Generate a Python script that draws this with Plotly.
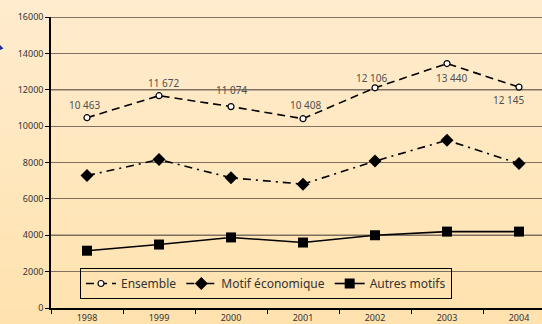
import plotly.graph_objects as go

# Annual totals by reason
years = ["1998", "1999", "2000", "2001", "2002", "2003", "2004"]
ensemble = [10463, 11672, 11074, 10408, 12106, 13440, 12145]
motif_eco = [7280, 8160, 7160, 6810, 8080, 9220, 7940]
autres = [3150, 3490, 3880, 3600, 4000, 4200, 4200]

# pixel offsets of the value labels relative to their points
label_dx = [-3, 4, 0, 2, -4, 4, -11]
label_dy = [13, 13, 17, 14, 10, -14, -13]

W, H = 542, 324
L, R, T, B = 51, 0, 17, 16
pw, ph = W - L - R, H - T - B


def px_x(p):
    return (p - L) / pw


def px_y(p):
    return (H - B - p) / ph


def fmt(v):
    return f"{v:,}".replace(",", " ")


fig = go.Figure()

fig.add_trace(go.Scatter(
    x=years, y=ensemble, name="Ensemble", mode="lines+markers",
    line=dict(color="black", width=1.6, dash="8px,5px"),
    marker=dict(symbol="circle", size=6, color="white",
                line=dict(color="black", width=1.2)),
))
fig.add_trace(go.Scatter(
    x=years, y=motif_eco, name="Motif économique", mode="lines+markers",
    line=dict(color="black", width=1.6, dash="8px,5px,2px,5px"),
    marker=dict(symbol="diamond", size=10, color="black"),
))
fig.add_trace(go.Scatter(
    x=years, y=autres, name="Autres motifs", mode="lines+markers",
    line=dict(color="black", width=1.6),
    marker=dict(symbol="square", size=10, color="black"),
))

# value labels on the "Ensemble" series (category index as x position)
annotations = [
    dict(x=i, y=v, xref="x", yref="y", text=fmt(v), showarrow=False,
         xshift=dx, yshift=dy,
         font=dict(size=10, color="#505050", family="Noto Sans"))
    for i, (v, dx, dy) in enumerate(zip(ensemble, label_dx, label_dy))
]

shapes = []
# soft vertical background gradient
top_rgb = (255, 236, 206)
bot_rgb = (255, 226, 174)
n = 40
for i in range(n):
    t = i / (n - 1)
    c = tuple(round(a + (b - a) * t) for a, b in zip(top_rgb, bot_rgb))
    y0 = i * H / n
    y1 = (i + 1) * H / n + 1
    shapes.append(dict(type="rect", xref="paper", yref="paper",
                       x0=px_x(0), x1=px_x(W), y0=px_y(y1), y1=px_y(y0),
                       fillcolor=f"rgb{c}", line=dict(width=0), layer="below"))
# darker grid lines every 4000
for v in range(4000, 16001, 4000):
    shapes.append(dict(type="line", xref="paper", yref="y", x0=0, x1=1,
                       y0=v, y1=v, line=dict(color="black", width=1.2),
                       layer="below"))
# small blue pointer at the left edge
shapes.append(dict(type="path", xref="paper", yref="paper",
                   path=f"M {px_x(0)},{px_y(45)} L {px_x(3.5)},{px_y(48.5)} "
                        f"L {px_x(0)},{px_y(50)} Z",
                   fillcolor="#1a2a9a", line=dict(width=0)))

fig.update_layout(
    width=W, height=H,
    margin=dict(l=L, r=R, t=T, b=B, pad=0),
    paper_bgcolor="#FFE8C0", plot_bgcolor="rgba(0,0,0,0)",
    font=dict(family="Noto Sans", color="#333333"),
    shapes=shapes, annotations=annotations,
    showlegend=True,
    legend=dict(
        orientation="h", x=px_x(80), y=px_y(268), xanchor="left", yanchor="top",
        bgcolor="rgba(0,0,0,0)", bordercolor="black", borderwidth=1,
        font=dict(size=12, color="#333333", family="Noto Sans"),
        itemwidth=30, tracegroupgap=0,
    ),
    xaxis=dict(
        type="category", categoryorder="array", categoryarray=years,
        range=[-0.5, -0.5 + pw / 72], tickson="boundaries",
        ticks="outside", ticklen=4, tickcolor="black",
        showline=True, linecolor="black", linewidth=1.5,
        showgrid=False, zeroline=False, automargin=False,
        tickfont=dict(size=9, color="#333333"),
    ),
    yaxis=dict(
        range=[0, 16000], dtick=2000, tick0=0, tickformat="d",
        ticks="outside", ticklen=4, tickcolor="black",
        showline=True, linecolor="black", linewidth=1.5,
        showgrid=True, gridcolor="#7d7060", gridwidth=1.2,
        zeroline=False, automargin=False,
        tickfont=dict(size=9, color="#333333"),
    ),
)

fig.write_html("out.html")
